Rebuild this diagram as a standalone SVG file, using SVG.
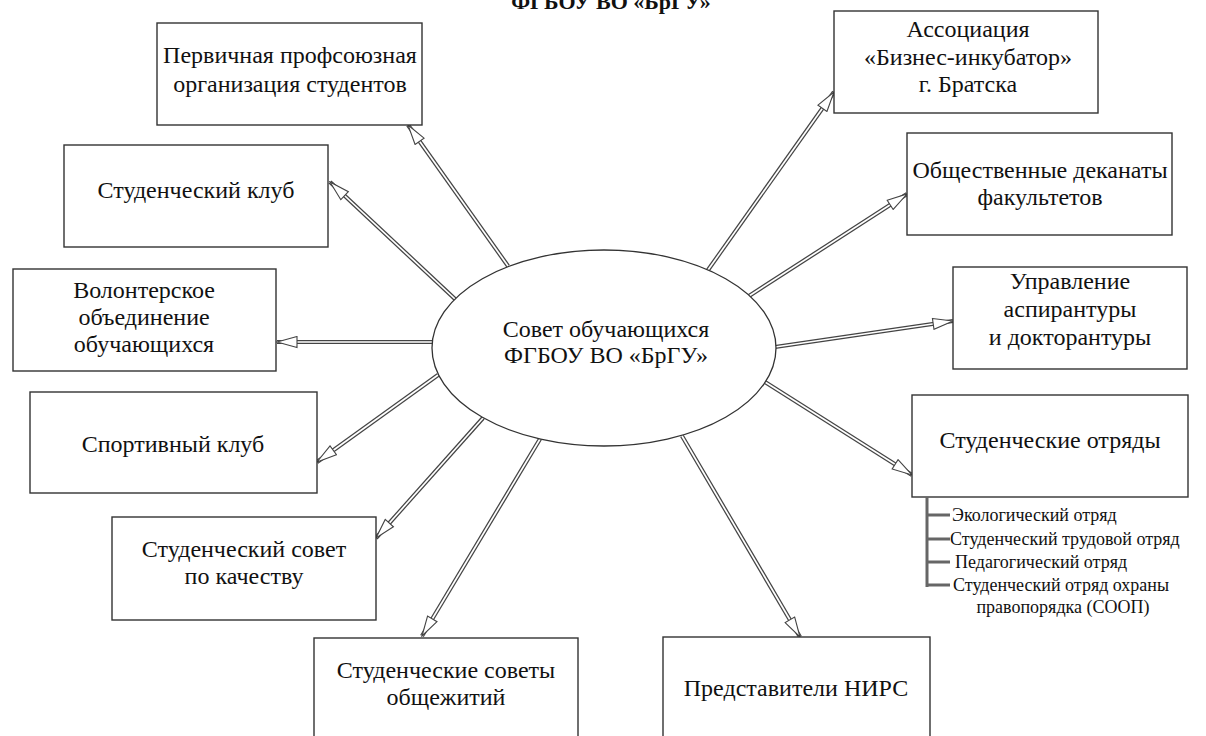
<svg xmlns="http://www.w3.org/2000/svg" width="1206" height="736" viewBox="0 0 1206 736">
<style>
  .box { fill: #fff; stroke: #333; stroke-width: 1.4; }
  .ell { fill: #fff; stroke: #333; stroke-width: 1.3; }
  .t { font-family: "Liberation Serif", "Times New Roman", serif; font-size: 24px; fill: #111; text-anchor: middle; }
  .title { font-family: "Liberation Serif", "Times New Roman", serif; font-size: 22px; font-weight: bold; fill: #111; text-anchor: middle; }
  .s { font-family: "Liberation Serif", "Times New Roman", serif; font-size: 18px; fill: #111; }
  .o { stroke: #444; stroke-width: 4.2; }
  .i { stroke: #fff; stroke-width: 1.7; marker-end: url(#head); }
  .bar { stroke: #666; stroke-width: 3; fill: none; }
</style>
<defs>
  <marker id="head" markerUnits="userSpaceOnUse" markerWidth="22" markerHeight="13" viewBox="0 0 22 13" refX="21" refY="6.5" orient="auto">
    <path d="M1,1 L21,6.5 L1,12 Z" fill="#fff" stroke="#444" stroke-width="1.1"/>
  </marker>
</defs>
<rect width="1206" height="736" fill="#fff"/>

<text class="title" x="611" y="9">ФГБОУ ВО «БрГУ»</text>

<g id="connectors">
  <g><line class="o" x1="508" y1="266" x2="408" y2="125"/><line class="i" x1="508" y1="266" x2="408" y2="125"/></g>
  <g><line class="o" x1="455" y1="299" x2="330" y2="182"/><line class="i" x1="455" y1="299" x2="330" y2="182"/></g>
  <g><line class="o" x1="432" y1="342" x2="277" y2="342"/><line class="i" x1="432" y1="342" x2="277" y2="342"/></g>
  <g><line class="o" x1="438" y1="375" x2="317" y2="462"/><line class="i" x1="438" y1="375" x2="317" y2="462"/></g>
  <g><line class="o" x1="483" y1="418" x2="376" y2="538"/><line class="i" x1="483" y1="418" x2="376" y2="538"/></g>
  <g><line class="o" x1="540" y1="439" x2="422" y2="636"/><line class="i" x1="540" y1="439" x2="422" y2="636"/></g>
  <g><line class="o" x1="682" y1="436" x2="800" y2="637"/><line class="i" x1="682" y1="436" x2="800" y2="637"/></g>
  <g><line class="o" x1="765" y1="382" x2="912" y2="475"/><line class="i" x1="765" y1="382" x2="912" y2="475"/></g>
  <g><line class="o" x1="775" y1="347" x2="953" y2="321"/><line class="i" x1="775" y1="347" x2="953" y2="321"/></g>
  <g><line class="o" x1="749" y1="296" x2="907" y2="194"/><line class="i" x1="749" y1="296" x2="907" y2="194"/></g>
  <g><line class="o" x1="708" y1="270" x2="834" y2="92"/><line class="i" x1="708" y1="270" x2="834" y2="92"/></g>
</g>

<g id="center">
  <ellipse class="ell" cx="604" cy="348" rx="172" ry="98"/>
  <text class="t" x="606" y="337">Совет обучающихся</text>
  <text class="t" x="606" y="363">ФГБОУ ВО «БрГУ»</text>
</g>

<g id="n-profsoyuz">
  <rect class="box" x="157" y="23" width="265" height="102"/>
  <text class="t" x="290" y="63">Первичная профсоюзная</text>
  <text class="t" x="290" y="92">организация студентов</text>
</g>

<g id="n-klub">
  <rect class="box" x="64" y="145" width="264" height="102"/>
  <text class="t" x="196" y="198">Студенческий клуб</text>
</g>

<g id="n-volonter">
  <rect class="box" x="13" y="269" width="263" height="102"/>
  <text class="t" x="144" y="298">Волонтерское</text>
  <text class="t" x="144" y="325">объединение</text>
  <text class="t" x="144" y="352">обучающихся</text>
</g>

<g id="n-sport">
  <rect class="box" x="30" y="392" width="287" height="101"/>
  <text class="t" x="173" y="452">Спортивный клуб</text>
</g>

<g id="n-kachestvo">
  <rect class="box" x="112" y="517" width="264" height="103"/>
  <text class="t" x="244" y="557">Студенческий совет</text>
  <text class="t" x="244" y="584">по качеству</text>
</g>

<g id="n-obshchezhitiya">
  <rect class="box" x="314" y="638" width="264" height="110"/>
  <text class="t" x="446" y="678">Студенческие советы</text>
  <text class="t" x="446" y="705">общежитий</text>
</g>

<g id="n-nirs">
  <rect class="box" x="663" y="637" width="267" height="110"/>
  <text class="t" x="796" y="696">Представители НИРС</text>
</g>

<g id="n-otryady">
  <rect class="box" x="912" y="395" width="276" height="102"/>
  <text class="t" x="1050" y="448">Студенческие отряды</text>
  <path class="bar" d="M927,497 V587 M927,515 H950 M927,539 H950 M927,562 H950 M927,585 H950"/>
  <text class="s" x="952" y="521">Экологический отряд</text>
  <text class="s" x="950" y="545">Студенческий трудовой отряд</text>
  <text class="s" x="955" y="568">Педагогический отряд</text>
  <text class="s" x="953" y="591">Студенческий отряд охраны</text>
  <text class="s" x="1063" y="613" text-anchor="middle">правопорядка (СООП)</text>
</g>

<g id="n-aspirantura">
  <rect class="box" x="953" y="267" width="234" height="102"/>
  <text class="t" x="1070" y="289">Управление</text>
  <text class="t" x="1070" y="317">аспирантуры</text>
  <text class="t" x="1070" y="345">и докторантуры</text>
</g>

<g id="n-dekanaty">
  <rect class="box" x="907" y="133" width="265" height="102"/>
  <text class="t" x="1040" y="178">Общественные деканаты</text>
  <text class="t" x="1040" y="205">факультетов</text>
</g>

<g id="n-inkubator">
  <rect class="box" x="834" y="11" width="264" height="102"/>
  <text class="t" x="968" y="37">Ассоциация</text>
  <text class="t" x="968" y="65">«Бизнес-инкубатор»</text>
  <text class="t" x="968" y="92">г. Братска</text>
</g>
</svg>
